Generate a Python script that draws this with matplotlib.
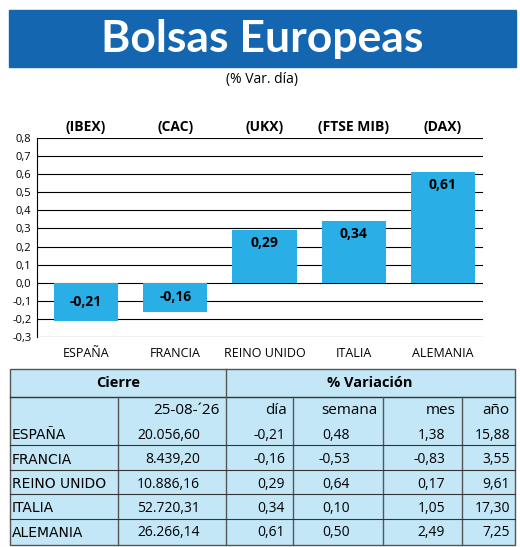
import matplotlib
matplotlib.use("Agg")
import matplotlib.pyplot as plt
from matplotlib.patches import Rectangle

countries = ["ESPAÑA", "FRANCIA", "REINO UNIDO", "ITALIA", "ALEMANIA"]
indices = ["(IBEX)", "(CAC)", "(UKX)", "(FTSE MIB)", "(DAX)"]
dia = [-0.21, -0.16, 0.29, 0.34, 0.61]
cierre = ["20.056,60", "8.439,20", "10.886,16", "52.720,31", "26.266,14"]
semana = ["0,48", "-0,53", "0,64", "0,10", "0,50"]
mes = ["1,38", "-0,83", "0,17", "1,05", "2,49"]
anio = ["15,88", "3,55", "9,61", "17,30", "7,25"]
yticks = [-0.3, -0.2, -0.1, 0.0, 0.1, 0.2, 0.3, 0.4, 0.5, 0.6, 0.7, 0.8]

W, H = 520, 547
fig = plt.figure(figsize=(W/100, H/100), dpi=100)
plt.rcParams['font.family'] = ['Open Sans', 'DejaVu Sans']

def fx(x): return x / W
def fy(y): return 1 - y / H

# banner
fig.patches.append(Rectangle((fx(9), fy(67)), fx(507), 57/H, transform=fig.transFigure, color="#1466b0"))
fig.text(fx(262), fy(39), "Bolsas Europeas", color="white", fontsize=32, fontweight="bold", ha="center", va="center",
         family=["Lato", "DejaVu Sans"])
fig.text(fx(262), fy(80), "(% Var. día)", fontsize=10, ha="center", va="center")

ax = fig.add_axes([fx(37), fy(337), fx(446), (337-138)/H])
x = range(len(dia))
ax.bar(x, dia, width=0.72, color="#2aaee6")
for i, v in enumerate(dia):
    ypos = v/2 if v < 0 else v - 0.07
    ax.text(i, ypos, f"{v:.2f}".replace(".", ","), ha="center", va="center", fontsize=10, fontweight="bold")
ax.set_xlim(-0.55, 4.45)
ax.set_ylim(-0.3, 0.8)
ax.set_yticks(yticks)
ax.set_yticklabels([f"{t:.1f}".replace(".", ",") for t in yticks], fontsize=8)
ax.set_xticks([])
ax.yaxis.grid(True, color="black", lw=0.8)
ax.set_axisbelow(True)
for s in ["top", "right", "bottom"]:
    ax.spines[s].set_visible(False)
ax.tick_params(axis="y", length=0, pad=4)
for i, (c, idx) in enumerate(zip(countries, indices)):
    ax.text(i, 1.02, idx, transform=ax.get_xaxis_transform(), ha="center", va="bottom", fontsize=10, fontweight="bold")
    ax.text(i, -0.05, c, transform=ax.get_xaxis_transform(), ha="center", va="top", fontsize=9)

# table
tx = [10, 118, 226, 293, 383, 462, 515]
ty0, ty1, ty2 = 369, 397, 423
rowh = 24.4
fig.patches.append(Rectangle((fx(10), fy(545)), fx(505), (545-369)/H, transform=fig.transFigure,
                             facecolor="#c3e7f7", edgecolor="#555555", lw=1))
def hline(y, x0, x1, lw=1):
    fig.add_artist(plt.Line2D([fx(x0), fx(x1)], [fy(y), fy(y)], color="#333333", lw=lw))
def vline(xx, y0, y1):
    fig.add_artist(plt.Line2D([fx(xx), fx(xx)], [fy(y0), fy(y1)], color="#555555", lw=1))
hline(ty1, 10, 515)
vline(226, 369, 545)
for xx in [118, 293, 383, 462]:
    vline(xx, 397, 545)
fig.text(fx(118), fy(383), "Cierre", ha="center", va="center", fontsize=10.5, fontweight="bold")
fig.text(fx(370), fy(383), "% Variación", ha="center", va="center", fontsize=10.5, fontweight="bold")
for j, h in enumerate(["25-08-´26", "día", "semana", "mes", "año"]):
    fig.text(fx(tx[j+2] - 6), fy(410), h, ha="right", va="center", fontsize=11)
for i in range(5):
    yc = ty2 + rowh*(i + 0.5)
    if i < 4:
        hline(ty2 + rowh*(i+1) - 2, 10, 515, lw=0.8)
    fig.text(fx(12), fy(yc), countries[i], ha="left", va="center", fontsize=10, family=["Liberation Sans Narrow", "DejaVu Sans"])
    vals = [cierre[i], f"{dia[i]:.2f}".replace(".", ","), semana[i], mes[i], anio[i]]
    for j, v in enumerate(vals):
        xr = [200, 285, 350, 445, 510][j]
        fig.text(fx(xr), fy(yc), v, ha="right", va="center", fontsize=10)

fig.savefig("out.png", dpi=100)
